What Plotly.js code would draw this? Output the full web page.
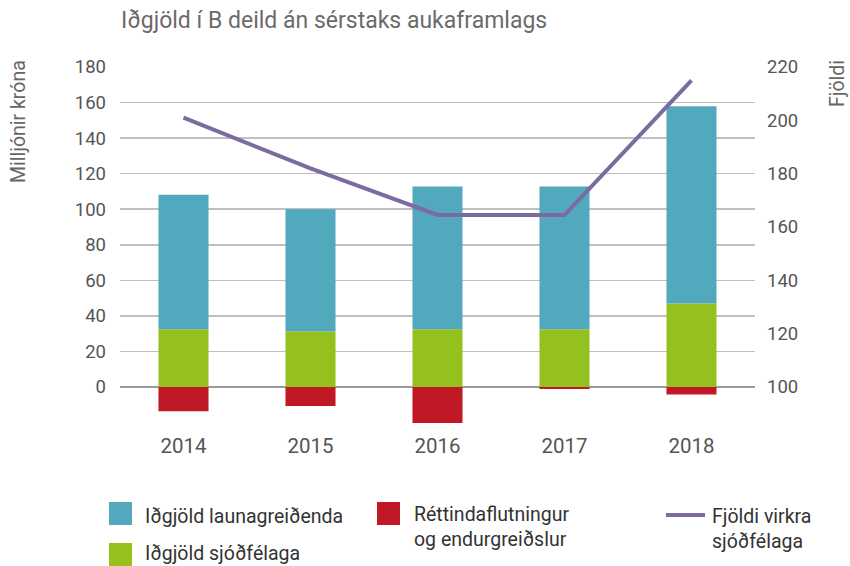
<!DOCTYPE html>
<html>
<head>
<meta charset="utf-8">
<script src="https://cdn.plot.ly/plotly-3.0.1.min.js"></script>
<style>html,body{margin:0;padding:0;background:#fff;}#chart{width:850px;height:566px;}</style>
</head>
<body>
<div id="chart"></div>
<script>
// ---- data ----
const years = ['2014', '2015', '2016', '2017', '2018'];
const launagreidenda = [75.7, 68.8, 80.3, 80.3, 111.0];
const sjodsfelaga = [32.5, 31.2, 32.5, 32.5, 46.9];
const rettindaflutningur = [-13.7, -10.7, -20.3, -1.1, -4.2];
const fjoldiVirkra = [201, 182, 164.5, 164.5, 215];
const leftTicks = [0, 20, 40, 60, 80, 100, 120, 140, 160, 180];
const rightTicks = [100, 120, 140, 160, 180, 200, 220];

const names = {
  blue: 'Iðgjöld launagreiðenda',
  green: 'Iðgjöld sjóðfélaga',
  red: 'Réttindaflutningur<br>og endurgreiðslur',
  line: 'Fjöldi virkra<br>sjóðfélaga'
};
const colors = {blue: '#52a8bd', green: '#95c11f', red: '#c01824', line: '#7b6b9e'};

// ---- layout geometry ----
const W = 850, H = 566;
const M = {l: 120, r: 95, t: 67, b: 135};
const pw = W - M.l - M.r, ph = H - M.t - M.b;
const px = X => (X - M.l) / pw;
const py = Y => (H - M.b - Y) / ph;

const font = 'Roboto, "Open Sans", sans-serif';

const traces = [
  {type: 'bar', x: years, y: sjodsfelaga, name: names.green, marker: {color: colors.green}, hoverinfo: 'y'},
  {type: 'bar', x: years, y: launagreidenda, name: names.blue, marker: {color: colors.blue}, hoverinfo: 'y'},
  {type: 'bar', x: years, y: rettindaflutningur, name: names.red, marker: {color: colors.red}, hoverinfo: 'y'},
  {type: 'scatter', mode: 'lines', x: years, y: fjoldiVirkra, yaxis: 'y2', name: names.line,
   line: {color: colors.line, width: 4}, hoverinfo: 'y'}
];

const shapes = [
  {type: 'rect', xref: 'paper', yref: 'paper', x0: px(109), x1: px(132), y0: py(502), y1: py(525), fillcolor: colors.blue, line: {width: 0}},
  {type: 'rect', xref: 'paper', yref: 'paper', x0: px(109), x1: px(132), y0: py(543), y1: py(566), fillcolor: colors.green, line: {width: 0}},
  {type: 'rect', xref: 'paper', yref: 'paper', x0: px(377), x1: px(400), y0: py(502), y1: py(525), fillcolor: colors.red, line: {width: 0}},
  {type: 'line', xref: 'paper', yref: 'paper', x0: px(666), x1: px(705), y0: py(515), y1: py(515), line: {color: colors.line, width: 4}}
];

const legFont = {family: font, size: 19.5, color: '#333'};
const annotations = [
  {xref: 'paper', yref: 'paper', x: px(143), y: py(516), xanchor: 'left', yanchor: 'middle', text: names.blue, showarrow: false, font: legFont},
  {xref: 'paper', yref: 'paper', x: px(143), y: py(553), xanchor: 'left', yanchor: 'middle', text: names.green, showarrow: false, font: legFont},
  {xref: 'paper', yref: 'paper', x: px(412), y: py(527), xanchor: 'left', yanchor: 'middle', align: 'left', text: names.red, showarrow: false, font: legFont},
  {xref: 'paper', yref: 'paper', x: px(710), y: py(529), xanchor: 'left', yanchor: 'middle', align: 'left', text: names.line, showarrow: false, font: legFont},
  {xref: 'paper', yref: 'paper', x: px(18), y: py(122), xanchor: 'center', yanchor: 'middle', textangle: -90, text: 'Milljónir króna', showarrow: false, font: {family: font, size: 19.5, color: '#666'}},
  {xref: 'paper', yref: 'paper', x: px(838), y: py(83), xanchor: 'center', yanchor: 'middle', textangle: -90, text: 'Fjöldi', showarrow: false, font: {family: font, size: 19.5, color: '#666'}}
];

const layout = {
  width: W, height: H,
  margin: M,
  paper_bgcolor: '#fff', plot_bgcolor: '#fff',
  barmode: 'relative',
  bargap: 0.606,
  showlegend: false,
  title: {text: 'Iðgjöld í B deild án sérstaks aukaframlags', x: 121 / W, xref: 'container', xanchor: 'left',
          y: 1 - 20 / H, yref: 'container', yanchor: 'middle', font: {family: font, size: 23, color: '#6b6b6b'}},
  xaxis: {type: 'category', showgrid: false, zeroline: false, showline: false, ticks: '',
          tickfont: {family: font, size: 20.5, color: '#555'}, fixedrange: true},
  yaxis: {range: [-24.75, 180], tickvals: leftTicks, showgrid: true, gridcolor: '#bfbfbf', gridwidth: 1.5,
          zeroline: true, zerolinecolor: '#9a9a9a', zerolinewidth: 2.5, showline: false, ticks: '',
          ticklabelstandoff: 13, tickfont: {family: font, size: 18.5, color: '#555'}},
  yaxis2: {range: [83.5, 220], tickvals: rightTicks, overlaying: 'y', side: 'right', showgrid: false, zeroline: false,
           showline: false, ticks: '', ticklabelstandoff: 11, tickfont: {family: font, size: 18.5, color: '#555'}},
  shapes: shapes,
  annotations: annotations
};

Plotly.newPlot('chart', traces, layout, {displayModeBar: false, staticPlot: true});
</script>
</body>
</html>
